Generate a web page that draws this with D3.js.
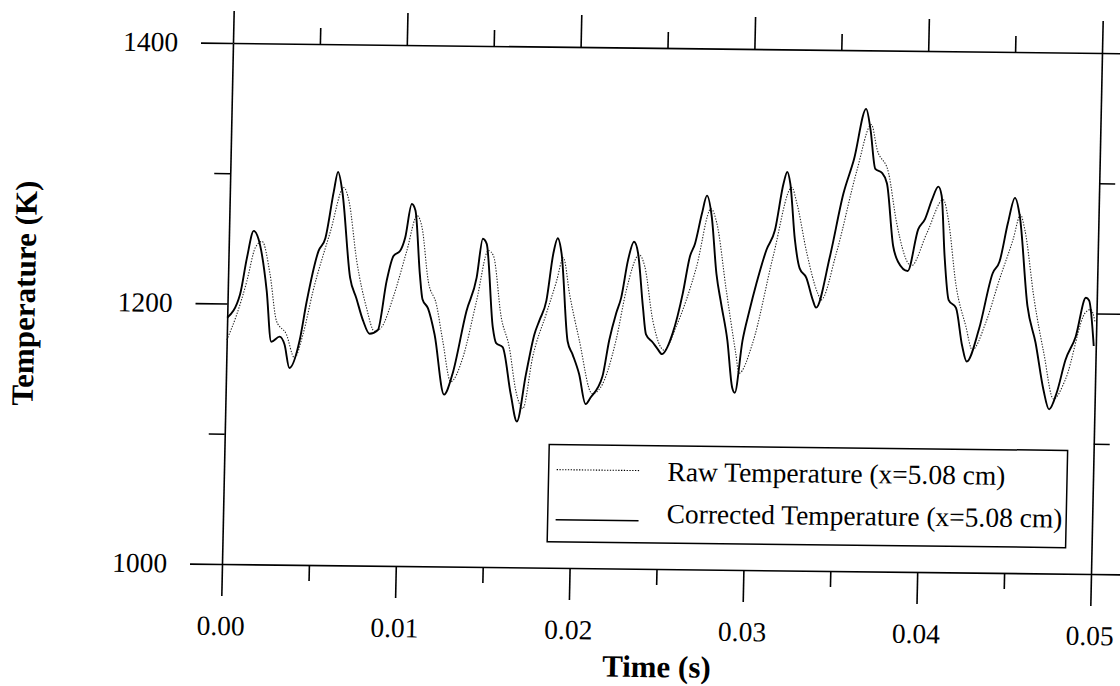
<!DOCTYPE html>
<html>

<head>
    <meta charset="UTF-8">
    <style>
        body {
            margin: 0;
            background: #fff;
        }

        svg {
            display: block;
        }

        text {
            font-family: "Liberation Serif", "Times New Roman", serif;
            fill: #000;
        }

        .axis path,
        .axis line {
            stroke: #000;
            stroke-width: 1.6px;
        }
    </style>
</head>

<body>
    <svg></svg>

    <script src="https://d3js.org/d3.v7.min.js"></script>

    <script>
        let width = 1120, height = 686;
        let plotW = 870, plotH = 520;

        // corrected temperature [time (s), temperature (K)]
        let correctedSeries = [
            [0.00000, 1189], [0.00071, 1207], [0.00106, 1235], [0.00142, 1256], [0.00170, 1250],
            [0.00224, 1210], [0.00256, 1171], [0.00304, 1175], [0.00333, 1169], [0.00364, 1151],
            [0.00419, 1172], [0.00455, 1202], [0.00517, 1241], [0.00555, 1251], [0.00598, 1287],
            [0.00620, 1302], [0.00647, 1287], [0.00702, 1221], [0.00741, 1205], [0.00782, 1188],
            [0.00821, 1178], [0.00868, 1181], [0.00913, 1219], [0.00949, 1238], [0.00987, 1242],
            [0.01014, 1252], [0.01048, 1278], [0.01070, 1273], [0.01103, 1224], [0.01121, 1205],
            [0.01154, 1198], [0.01195, 1178], [0.01257, 1132], [0.01303, 1148], [0.01375, 1196],
            [0.01430, 1222], [0.01461, 1252], [0.01484, 1248], [0.01529, 1184], [0.01550, 1172],
            [0.01588, 1169], [0.01640, 1133], [0.01679, 1112], [0.01725, 1148], [0.01769, 1179],
            [0.01797, 1190], [0.01834, 1205], [0.01868, 1241], [0.01892, 1253], [0.01916, 1241],
            [0.01961, 1174], [0.01991, 1164], [0.02031, 1149], [0.02072, 1126], [0.02100, 1131],
            [0.02165, 1147], [0.02200, 1175], [0.02237, 1196], [0.02264, 1208], [0.02299, 1237],
            [0.02331, 1251], [0.02356, 1242], [0.02390, 1201], [0.02411, 1180], [0.02450, 1174],
            [0.02479, 1169], [0.02505, 1165], [0.02564, 1181], [0.02618, 1212], [0.02654, 1240],
            [0.02682, 1250], [0.02718, 1273], [0.02745, 1287], [0.02775, 1271], [0.02809, 1227],
            [0.02840, 1204], [0.02880, 1176], [0.02913, 1140], [0.02929, 1136], [0.02967, 1176],
            [0.03003, 1199], [0.03040, 1220], [0.03094, 1246], [0.03140, 1261], [0.03184, 1297],
            [0.03204, 1306], [0.03223, 1297], [0.03256, 1254], [0.03287, 1232], [0.03326, 1225],
            [0.03366, 1208], [0.03386, 1202], [0.03459, 1241], [0.03530, 1290], [0.03586, 1316],
            [0.03650, 1355], [0.03678, 1339], [0.03710, 1309], [0.03749, 1306], [0.03779, 1298],
            [0.03822, 1250], [0.03852, 1238], [0.03909, 1231], [0.03964, 1263], [0.04002, 1271],
            [0.04040, 1286], [0.04075, 1296], [0.04095, 1289], [0.04119, 1243], [0.04148, 1209],
            [0.04191, 1203], [0.04231, 1174], [0.04259, 1162], [0.04326, 1187], [0.04398, 1230],
            [0.04436, 1239], [0.04480, 1269], [0.04517, 1288], [0.04547, 1274], [0.04602, 1205],
            [0.04653, 1177], [0.04704, 1141], [0.04739, 1126], [0.04781, 1139], [0.04827, 1164],
            [0.04883, 1182], [0.04937, 1212], [0.04956, 1210], [0.04988, 1175]
        ];

        // raw temperature [time (s), temperature (K)]
        let rawSeries = [
            [0.00000, 1172], [0.00053, 1191], [0.00108, 1217], [0.00153, 1243], [0.00191, 1248],
            [0.00241, 1223], [0.00284, 1187], [0.00342, 1177], [0.00392, 1159], [0.00438, 1177],
            [0.00490, 1210], [0.00583, 1256], [0.00655, 1290], [0.00686, 1280], [0.00738, 1234],
            [0.00800, 1198], [0.00849, 1180], [0.00888, 1183], [0.00952, 1206], [0.01025, 1242],
            [0.01080, 1269], [0.01110, 1260], [0.01152, 1219], [0.01202, 1201], [0.01243, 1173],
            [0.01294, 1142], [0.01359, 1160], [0.01432, 1204], [0.01494, 1243], [0.01524, 1239],
            [0.01576, 1192], [0.01626, 1169], [0.01670, 1135], [0.01712, 1122], [0.01761, 1161],
            [0.01835, 1195], [0.01890, 1220], [0.01926, 1238], [0.01967, 1210], [0.02028, 1175],
            [0.02109, 1134], [0.02157, 1139], [0.02239, 1175], [0.02293, 1214], [0.02363, 1241],
            [0.02396, 1232], [0.02448, 1191], [0.02518, 1168], [0.02583, 1186], [0.02693, 1232],
            [0.02770, 1277], [0.02805, 1266], [0.02867, 1215], [0.02930, 1166], [0.02951, 1151],
            [0.03025, 1174], [0.03133, 1241], [0.03232, 1294], [0.03263, 1282], [0.03326, 1244],
            [0.03394, 1213], [0.03414, 1208], [0.03496, 1244], [0.03605, 1308], [0.03682, 1343],
            [0.03718, 1324], [0.03787, 1306], [0.03839, 1268], [0.03929, 1235], [0.04014, 1260],
            [0.04105, 1286], [0.04136, 1271], [0.04189, 1220], [0.04250, 1189], [0.04290, 1171],
            [0.04364, 1192], [0.04437, 1225], [0.04511, 1256], [0.04551, 1275], [0.04577, 1264],
            [0.04640, 1210], [0.04702, 1169], [0.04763, 1134], [0.04829, 1149], [0.04938, 1201],
            [0.04967, 1203], [0.04992, 1194]
        ];

        let xMajor = [0, 0.01, 0.02, 0.03, 0.04, 0.05];
        let xMinor = [0.005, 0.015, 0.025, 0.035, 0.045];
        let xLabels = ["0.00", "0.01", "0.02", "0.03", "0.04", "0.05"];
        let yMajor = [1000, 1200, 1400];
        let yMinor = [1100, 1300];
        let yLabels = ["1000", "1200", "1400"];
        let legendNames = ["Raw Temperature (x=5.08 cm)", "Corrected Temperature (x=5.08 cm)"];

        let svg = d3.select("svg")
            .attr("width", width)
            .attr("height", height);

        // the scanned figure is slightly skewed, so the whole chart sits in one transformed group
        let g = svg.append("g")
            .attr("transform", "matrix(0.99885,0.0115,-0.02115,1.0019,233,43)");

        let x = d3.scaleLinear().domain([0, 0.05]).range([0, plotW]);
        let y = d3.scaleLinear().domain([1000, 1400]).range([plotH, 0]);

        let bigTick = 32, smallTick = 16;

        function addAxis(axisFn, scale, values, size, tx, ty, keepDomain) {
            let a = g.append("g")
                .attr("class", "axis")
                .attr("transform", "translate(" + tx + "," + ty + ")")
                .call(axisFn(scale).tickValues(values).tickSize(size).tickSizeOuter(0).tickFormat(""));
            if (!keepDomain) a.select(".domain").remove();
        }

        addAxis(d3.axisBottom, x, xMajor, bigTick, 0, plotH, true);
        addAxis(d3.axisBottom, x, xMinor, smallTick, 0, plotH, false);
        addAxis(d3.axisTop, x, xMajor, bigTick, 0, 0, true);
        addAxis(d3.axisTop, x, xMinor, smallTick, 0, 0, false);
        addAxis(d3.axisLeft, y, yMajor, bigTick, 0, 0, true);
        addAxis(d3.axisLeft, y, yMinor, smallTick, 0, 0, false);
        addAxis(d3.axisRight, y, yMajor, bigTick, plotW, 0, true);
        addAxis(d3.axisRight, y, yMinor, smallTick, plotW, 0, false);

        // tick labels
        g.append("g").selectAll("text")
            .data(xMajor)
            .enter()
            .append("text")
            .attr("x", d => x(d))
            .attr("y", plotH + 71)
            .attr("text-anchor", "middle")
            .style("font-size", "27.5px")
            .text((d, i) => xLabels[i]);

        g.append("g").selectAll("text")
            .data(yMajor)
            .enter()
            .append("text")
            .attr("x", -55)
            .attr("y", d => y(d) + 9)
            .attr("text-anchor", "end")
            .style("font-size", "27.5px")
            .text((d, i) => yLabels[i]);

        // axis titles
        g.append("text")
            .attr("x", 437)
            .attr("y", 628)
            .attr("text-anchor", "middle")
            .style("font-size", "31px")
            .style("font-weight", "bold")
            .text("Time (s)");

        g.append("text")
            .attr("transform", "translate(-193,252) rotate(-90)")
            .attr("text-anchor", "middle")
            .style("font-size", "31px")
            .style("font-weight", "bold")
            .text("Temperature (K)");

        // lines
        let line = d3.line()
            .x(d => x(d[0]))
            .y(d => y(d[1]))
            .curve(d3.curveMonotoneX);

        g.append("path")
            .datum(rawSeries)
            .attr("fill", "none")
            .attr("stroke", "#222")
            .attr("stroke-width", 1.1)
            .attr("stroke-dasharray", "1.3,1.5")
            .attr("d", line);

        g.append("path")
            .datum(correctedSeries)
            .attr("fill", "none")
            .attr("stroke", "#000")
            .attr("stroke-width", 1.9)
            .attr("d", line);

        // legend
        let legend = g.append("g").attr("transform", "translate(325,397)");
        legend.append("rect")
            .attr("width", 519)
            .attr("height", 97)
            .attr("fill", "#fff")
            .attr("stroke", "#000")
            .attr("stroke-width", 1.5);

        let rows = [{ lineY: 25, textY: 35, dash: "1.3,1.5", w: 1.1 }, { lineY: 75, textY: 77, dash: null, w: 1.6 }];
        rows.forEach((r, i) => {
            legend.append("line")
                .attr("x1", 8).attr("x2", 91)
                .attr("y1", r.lineY).attr("y2", r.lineY)
                .attr("stroke", "#000")
                .attr("stroke-width", r.w)
                .attr("stroke-dasharray", r.dash);
            legend.append("text")
                .attr("x", 119)
                .attr("y", r.textY)
                .style("font-size", "27.5px")
                .text(legendNames[i]);
        });
    </script>

</body>

</html>
